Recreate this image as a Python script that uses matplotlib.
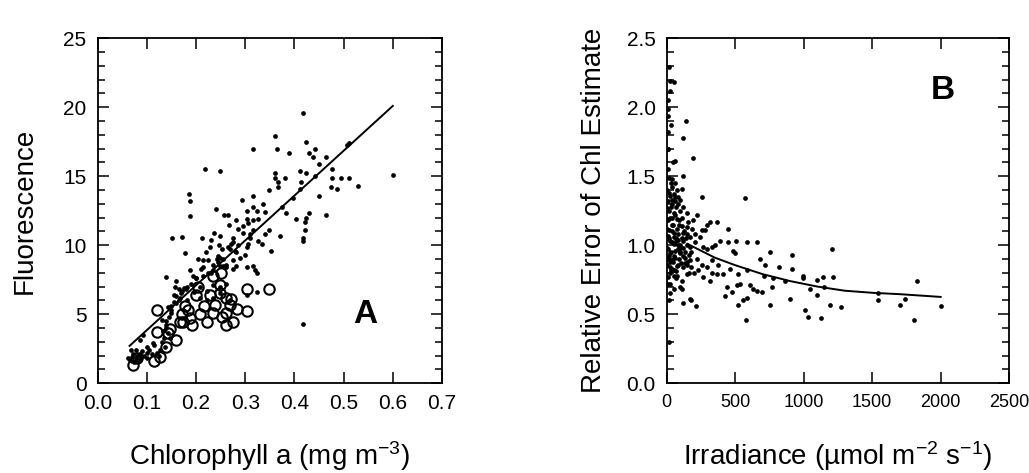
import matplotlib
matplotlib.use("Agg")
import matplotlib.pyplot as plt
from matplotlib.ticker import MultipleLocator, FormatStrFormatter

matplotlib.rcParams['font.family'] = ['Liberation Sans', 'DejaVu Sans']
matplotlib.rcParams['mathtext.default'] = 'regular'

# ---- panel A: fluorescence vs chlorophyll ----
chl_dots = [0.418, 0.360, 0.316, 0.365, 0.389, 0.423, 0.442, 0.429, 0.438, 0.450, 0.465, 0.506, 0.511,
            0.218, 0.249, 0.360, 0.361, 0.381, 0.411, 0.423, 0.441, 0.476, 0.476, 0.494, 0.511, 0.529,
            0.474, 0.486, 0.601, 0.367, 0.367, 0.348, 0.414, 0.411, 0.450, 0.186, 0.188, 0.188, 0.316,
            0.294, 0.316, 0.397, 0.374, 0.337, 0.240, 0.257, 0.266, 0.303, 0.323, 0.340, 0.383, 0.403,
            0.423, 0.430, 0.421, 0.465, 0.303, 0.315, 0.326, 0.281, 0.268, 0.295, 0.286, 0.316, 0.340,
            0.349, 0.422, 0.418, 0.417, 0.370, 0.152, 0.171, 0.212, 0.236, 0.249, 0.230, 0.276, 0.310,
            0.326, 0.272, 0.306, 0.246, 0.228, 0.221, 0.204, 0.177, 0.252, 0.269, 0.282, 0.303, 0.353,
            0.335, 0.215, 0.225, 0.242, 0.249, 0.255, 0.276, 0.290, 0.300, 0.211, 0.215, 0.194, 0.188,
            0.235, 0.248, 0.262, 0.276, 0.282, 0.303, 0.316, 0.320, 0.323, 0.140, 0.160, 0.157, 0.172,
            0.181, 0.155, 0.168, 0.181, 0.144, 0.149, 0.140, 0.139, 0.133, 0.144, 0.208, 0.222, 0.235,
            0.249, 0.262, 0.208, 0.222, 0.235, 0.249, 0.269, 0.303, 0.325, 0.418, 0.100, 0.093, 0.086,
            0.068, 0.079, 0.113, 0.072, 0.086, 0.100, 0.120, 0.062, 0.069, 0.079, 0.089, 0.127, 0.137,
            0.147, 0.165, 0.175, 0.195, 0.200, 0.230, 0.245, 0.260, 0.280, 0.160, 0.150, 0.130, 0.115,
            0.065, 0.070, 0.075, 0.080, 0.085, 0.090, 0.095, 0.100, 0.105, 0.110, 0.125, 0.130, 0.135,
            0.140, 0.145, 0.150, 0.155, 0.160, 0.165, 0.170, 0.180, 0.190, 0.200, 0.215, 0.225, 0.235,
            0.245, 0.255, 0.265, 0.275, 0.285, 0.295, 0.305, 0.310]
fluo_dots = [19.6, 17.9, 17.0, 17.0, 16.7, 17.5, 17.0, 16.7, 16.4, 15.9, 16.4, 17.3, 17.4,
             15.5, 15.4, 15.2, 14.9, 14.9, 15.4, 15.2, 15.0, 15.5, 14.9, 14.9, 14.9, 14.3,
             14.2, 14.1, 15.1, 14.6, 14.2, 14.0, 14.6, 14.1, 13.6, 13.7, 13.2, 12.1, 13.6,
             13.3, 12.8, 13.4, 12.8, 13.0, 12.6, 12.2, 12.2, 12.5, 12.5, 12.4, 12.3, 11.9,
             12.0, 12.3, 11.7, 12.2, 11.9, 11.8, 11.9, 11.8, 11.5, 11.4, 11.2, 11.1, 10.8,
             11.1, 11.1, 10.5, 10.3, 10.7, 10.5, 10.6, 10.5, 10.9, 10.7, 10.4, 10.5, 10.5,
             10.3, 10.1, 10.1, 10.0, 9.9, 9.5, 9.0, 9.4, 9.7, 9.7, 9.5, 9.9, 9.6,
             10.1, 8.9, 8.9, 9.0, 9.1, 8.5, 8.9, 9.1, 9.3, 8.3, 8.4, 7.8, 8.2,
             8.2, 8.5, 8.4, 8.3, 8.5, 8.4, 8.5, 8.2, 8.0, 7.7, 7.4, 7.0, 6.7,
             7.0, 6.4, 6.2, 6.0, 5.5, 5.1, 4.5, 4.2, 3.8, 3.6, 7.0, 6.7, 7.1,
             7.0, 7.2, 6.2, 6.0, 6.2, 6.5, 6.0, 6.4, 6.6, 4.3, 2.6, 3.5, 3.1,
             2.4, 2.4, 2.9, 2.1, 2.1, 2.2, 2.2, 1.8, 1.6, 1.8, 1.9, 2.4, 2.6,
             3.3, 6.8, 6.9, 6.6, 7.6, 8.0, 8.8, 8.6, 9.6, 5.8, 5.3, 4.6, 2.8,
             1.7, 1.9, 1.5, 2.0, 1.7, 2.3, 2.0, 1.8, 2.4, 2.1, 2.0, 3.0, 3.3,
             4.0, 4.8, 5.6, 5.9, 6.3, 6.0, 6.5, 6.8, 7.2, 7.6, 7.8, 8.0, 8.6,
             9.2, 9.0, 9.9, 10.2, 10.0, 10.9, 11.6, 10.8]

chl_circles = [0.120, 0.120, 0.144, 0.159, 0.140, 0.127, 0.114, 0.072, 0.080, 0.174, 0.191, 0.188,
               0.171, 0.184, 0.177, 0.201, 0.204, 0.216, 0.223, 0.235, 0.228, 0.238, 0.249, 0.249,
               0.252, 0.262, 0.262, 0.272, 0.262, 0.276, 0.283, 0.303, 0.303, 0.349, 0.251, 0.235,
               0.269, 0.208, 0.167, 0.147]
fluo_circles = [5.3, 3.7, 3.6, 3.1, 2.6, 1.9, 1.6, 1.3, 1.8, 4.4, 4.2, 4.7,
                5.0, 5.3, 5.6, 6.4, 7.0, 5.6, 4.4, 5.1, 6.4, 5.7, 6.5, 7.1,
                4.8, 6.2, 5.1, 6.1, 4.2, 4.4, 5.4, 5.2, 6.8, 6.8, 8.0, 7.8,
                5.7, 5.0, 4.4, 3.9]

fit_chl = [0.065, 0.60]
fit_fluo = [2.7, 20.1]

# ---- panel B: relative error vs irradiance ----
irr = [17, 24, 49, 24, 12, 29, 141, 122, 195, 61, 44, 122, 17, 36, 73, 109, 255, 572, 17, 17, 24, 97,
       114, 122, 175, 212, 170, 12, 36, 61, 85, 19, 49, 97, 122, 146, 12, 36, 73, 109, 158, 195, 219,
       255, 280, 292, 316, 365, 450, 19, 53, 85, 122, 146, 170, 207, 243, 24, 49, 85, 122, 146, 170,
       24, 61, 97, 134, 170, 24, 53, 85, 122, 146, 12, 73, 109, 146, 36, 12, 12, 36, 267, 292, 328,
       353, 389, 450, 506, 584, 662, 486, 499, 754, 912, 1204, 219, 255, 292, 328, 365, 231, 267, 316,
       328, 377, 413, 462, 523, 584, 681, 718, 608, 633, 438, 425, 474, 511, 535, 523, 555, 584, 579,
       657, 694, 754, 711, 779, 864, 766, 823, 912, 992, 992, 900, 1009, 1034, 1046, 1099, 1099, 1148,
       1124, 1211, 1192, 1270, 1544, 1544, 1702, 1739, 1824, 1805, 1999, 1143,
       8, 8, 8, 8, 30, 60, 90, 40, 70, 100, 150, 180, 20, 55, 80, 110, 135, 160, 10, 30, 65, 95,
       5, 15, 25, 40, 55, 70, 85, 100, 5, 20, 30, 45, 60, 75, 90, 110, 125, 5, 15, 35, 50, 65,
       80, 100, 115, 130, 5, 15, 30, 45, 60, 75, 90, 105, 120, 5, 20, 40, 55, 70, 150, 165, 180,
       200, 185, 205, 140, 60, 35, 10, 8, 8, 8, 25, 50]
rel_err = [2.29, 2.19, 2.18, 2.12, 1.94, 1.87, 1.90, 1.78, 1.63, 1.61, 1.60, 1.50, 1.49, 1.42, 1.40,
           1.41, 1.35, 1.34, 0.30, 0.60, 0.65, 0.70, 0.68, 0.58, 0.60, 0.56, 0.61, 1.32, 1.30, 1.32,
           1.30, 1.25, 1.23, 1.25, 1.28, 1.23, 1.18, 1.15, 1.19, 1.20, 1.17, 1.18, 1.22, 1.11, 1.11,
           1.15, 1.17, 1.17, 1.12, 1.11, 1.09, 1.08, 1.09, 1.08, 1.06, 1.08, 1.06, 1.03, 1.01, 0.97,
           1.03, 1.00, 0.99, 0.94, 0.91, 0.94, 0.91, 0.89, 0.84, 0.82, 0.86, 0.84, 0.79, 0.77, 0.78,
           0.74, 0.86, 0.89, 0.97, 1.07, 1.20, 0.99, 0.97, 0.99, 1.00, 1.03, 1.02, 1.03, 1.02, 1.02,
           0.96, 0.94, 0.95, 0.93, 0.97, 0.90, 0.86, 0.84, 0.80, 0.79, 0.82, 0.77, 0.74, 0.89, 0.86,
           0.79, 0.83, 0.79, 0.82, 0.90, 0.86, 0.71, 0.68, 0.70, 0.63, 0.66, 0.71, 0.72, 0.57, 0.60,
           0.62, 0.46, 0.67, 0.66, 0.57, 0.78, 0.76, 0.74, 0.70, 0.84, 0.83, 0.78, 0.76, 0.61, 0.53,
           0.48, 0.68, 0.75, 0.64, 0.70, 0.47, 0.77, 0.57, 0.55, 0.65, 0.60, 0.57, 0.61, 0.74, 0.46,
           0.56, 0.77,
           2.05, 1.70, 1.05, 0.90, 1.45, 1.35, 1.15, 1.10, 1.05, 0.98, 1.13, 0.95, 0.88, 0.92, 1.00,
           1.05, 0.87, 0.80, 0.72, 0.82, 0.76, 0.95,
           1.40, 1.38, 1.36, 1.33, 1.37, 1.28, 1.35, 1.33, 1.27, 1.20, 1.28, 1.15, 1.22, 1.12, 1.18,
           1.14, 1.10, 1.12, 1.05, 1.02, 1.06, 1.03, 1.04, 1.00, 0.98, 0.95, 0.98, 0.92, 0.95, 0.88,
           0.96, 0.85, 0.90, 0.87, 0.92, 0.86, 0.80, 0.83, 0.78, 0.81, 0.88, 0.93, 0.84, 0.80, 1.12,
           1.02, 1.05, 1.45, 1.48, 1.55, 1.70, 1.82, 1.99, 0.72, 0.68]

curve_irr = [150, 250, 350, 500, 700, 900, 1100, 1300, 1500, 1700, 2000]
curve_err = [1.01, 0.96, 0.91, 0.855, 0.79, 0.74, 0.70, 0.67, 0.655, 0.645, 0.625]


def style_axes(ax):
    for s in ax.spines.values():
        s.set_linewidth(1.3)
    ax.tick_params(which='both', direction='in', top=True, right=True, width=1.1,
                   labelsize=15, pad=8)
    ax.tick_params(which='major', length=8)
    ax.tick_params(which='minor', length=5)


fig = plt.figure(figsize=(10.29, 4.73), dpi=100)
axA = fig.add_axes([0.0948, 0.190, 0.3348, 0.729])
axB = fig.add_axes([0.648, 0.190, 0.3327, 0.729])

axA.plot(fit_chl, fit_fluo, '-k', lw=1.4)
axA.plot(chl_dots, fluo_dots, 'o', color='k', ms=3.4, mew=0)
axA.plot(chl_circles, fluo_circles, 'o', mfc='none', mec='k', ms=7.5, mew=1.5)
axA.set_xlim(0, 0.7)
axA.set_ylim(0, 25)
axA.xaxis.set_major_locator(MultipleLocator(0.1))
axA.yaxis.set_major_locator(MultipleLocator(5))
axA.yaxis.set_minor_locator(MultipleLocator(1))
axA.xaxis.set_major_formatter(FormatStrFormatter('%.1f'))
style_axes(axA)
axA.set_xlabel('Chlorophyll a (mg m$^{-3}$)', fontsize=20, labelpad=19)
axA.set_ylabel('Fluorescence', fontsize=20, labelpad=18)
axA.text(0.543, 5.0, 'A', fontsize=24, fontweight='bold', ha='center', va='center')

axB.plot(curve_irr, curve_err, '-k', lw=1.4)
axB.plot(irr, rel_err, 'o', color='k', ms=3.4, mew=0)
axB.set_xlim(0, 2500)
axB.set_ylim(0, 2.5)
axB.xaxis.set_major_locator(MultipleLocator(500))
axB.yaxis.set_major_locator(MultipleLocator(0.5))
axB.yaxis.set_minor_locator(MultipleLocator(0.1))
axB.yaxis.set_major_formatter(FormatStrFormatter('%.1f'))
style_axes(axB)
axB.tick_params(axis='x', labelsize=13)
axB.set_xlabel('Irradiance (µmol m$^{-2}$ s$^{-1}$)', fontsize=20, labelpad=20)
axB.set_ylabel('Relative Error of Chl Estimate', fontsize=20, labelpad=14)
axB.text(2018, 2.12, 'B', fontsize=24, fontweight='bold', ha='center', va='center')

fig.savefig('out.png', dpi=100)
